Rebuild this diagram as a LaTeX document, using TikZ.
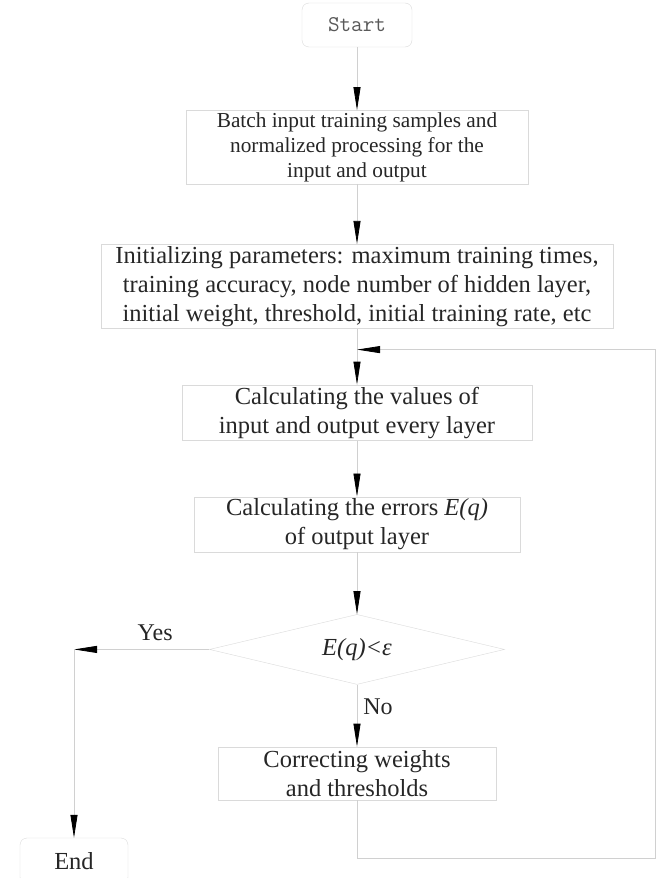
\documentclass[tikz,border=0pt]{standalone}
\usepackage{fontspec}
\setmainfont{Liberation Serif}
\usetikzlibrary{positioning, shapes.geometric, arrows.meta}
\definecolor{boxgray}{HTML}{DADADA}
\definecolor{linegray}{HTML}{D0D0D0}
\definecolor{textgray}{HTML}{262626}
\tikzset{%
  process/.style={draw=boxgray, rectangle, align=center, inner sep=2pt, text=textgray,
    font=\fontsize{24.5}{29}\selectfont},
  terminal/.style={process, rounded corners=7pt},
  decision/.style={draw=boxgray, diamond, aspect=4.2, inner sep=0pt, text=textgray,
    minimum width=295pt, minimum height=70pt, font=\fontsize{24.5}{29}\selectfont\itshape},
  wire/.style={draw=linegray, line width=0.8pt},
  flow/.style={wire, -{Triangle[length=23pt, width=7pt, color=black]}},
  tag/.style={text=textgray, font=\fontsize{24}{28}\selectfont}
}
\begin{document}
\begin{tikzpicture}
  \useasboundingbox (0,0) rectangle (656pt,-878pt);

  \node[terminal, minimum width=110pt, minimum height=44pt, text=black!65,
        font=\fontsize{22.5}{26}\selectfont\ttfamily] (start) at (357pt,-25pt) {Start};
  \node[process, minimum width=342pt, minimum height=72pt,
        font=\fontsize{21.3}{25}\selectfont] (batch) [below = 63pt of start]
        {Batch input training samples and\\normalized processing for the\\input and output};
  \node[process, minimum width=512pt, minimum height=84pt] (init) [below = 60pt of batch]
        {Initializing parameters: maximum training times,\\training accuracy, node number of hidden layer,\\initial weight, threshold, initial training rate, etc};
  \node[process, minimum width=350pt, minimum height=55pt] (values) [below = 56pt of init]
        {Calculating the values of\\input and output every layer};
  \node[process, minimum width=326pt, minimum height=55pt] (errors) [below = 56pt of values]
        {Calculating the errors \textit{E(q)}\\of output layer};
  \node[decision] (check) [below = 62pt of errors] {E(q)<ε};
  \node[process, minimum width=278pt, minimum height=53pt] (correct) [below = 62pt of check]
        {Correcting weights\\and thresholds};
  \node[terminal, minimum width=108pt, minimum height=46pt] (finish) at (74pt,-861pt) {End};

  \coordinate (yesturn) at (check.west -| finish.north);
  \path (init.south) ++(0,-21pt) coordinate (loopin);
  \coordinate (loopcorner) at (655pt,-858pt);

  \draw[flow] (start) -- (batch);
  \draw[flow] (batch) -- (init);
  \draw[flow] (init) -- (values);
  \draw[flow] (values) -- (errors);
  \draw[flow] (errors) -- (check);
  \draw[flow] (check) -- node[tag, right, pos=0.35, inner sep=6pt] {No} (correct);
  \draw[flow] (check.west) -- node[tag, above, pos=0.4, inner sep=8pt] {Yes} (yesturn);
  \draw[flow] (yesturn) -- (finish);
  \draw[flow] (correct.south) |- (loopcorner) |- (loopin);

\end{tikzpicture}
\end{document}
